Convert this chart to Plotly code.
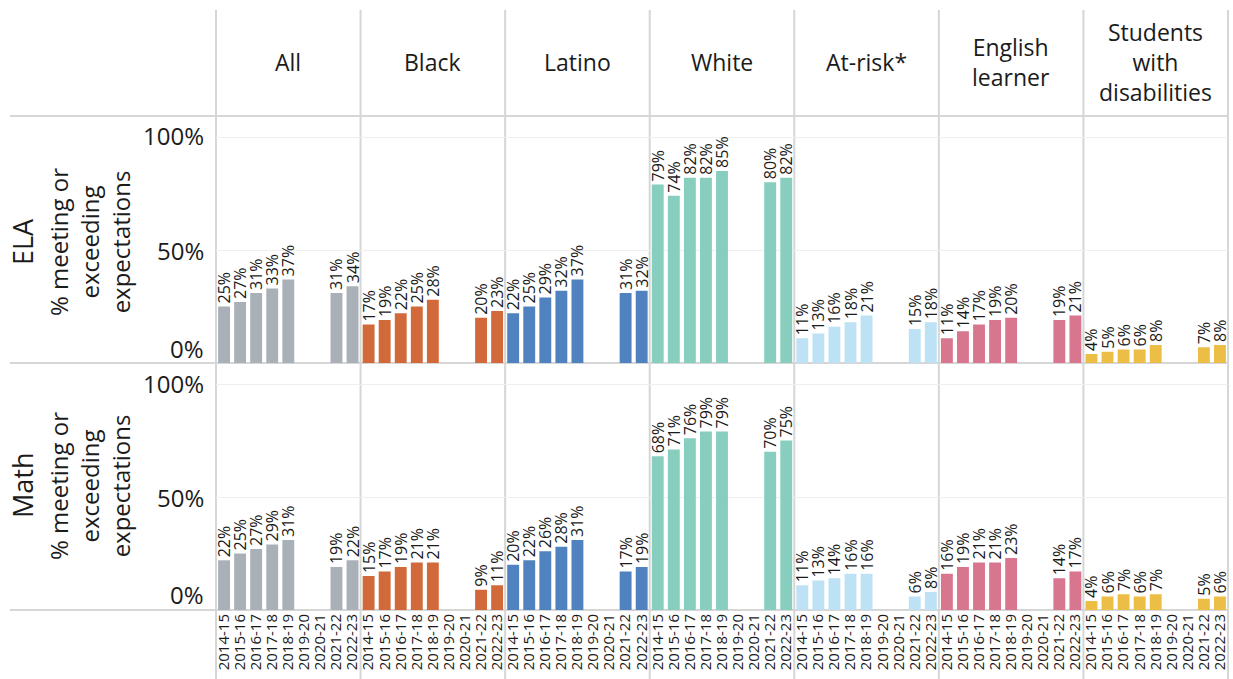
import plotly.graph_objects as go
from plotly.subplots import make_subplots

# School years on each panel's category axis
years = ["2014-15", "2015-16", "2016-17", "2017-18", "2018-19",
         "2019-20", "2020-21", "2021-22", "2022-23"]

# Student groups (column headers, line breaks as drawn)
group_headers = ["All", "Black", "Latino", "White", "At-risk*",
                 "English<br>learner", "Students<br>with<br>disabilities"]

# ELA: % meeting or exceeding expectations (no testing in 2019-20, 2020-21)
ela_all = [25, 27, 31, 33, 37, None, None, 31, 34]
ela_black = [17, 19, 22, 25, 28, None, None, 20, 23]
ela_latino = [22, 25, 29, 32, 37, None, None, 31, 32]
ela_white = [79, 74, 82, 82, 85, None, None, 80, 82]
ela_at_risk = [11, 13, 16, 18, 21, None, None, 15, 18]
ela_english_learner = [11, 14, 17, 19, 20, None, None, 19, 21]
ela_disabilities = [4, 5, 6, 6, 8, None, None, 7, 8]

# Math: % meeting or exceeding expectations
math_all = [22, 25, 27, 29, 31, None, None, 19, 22]
math_black = [15, 17, 19, 21, 21, None, None, 9, 11]
math_latino = [20, 22, 26, 28, 31, None, None, 17, 19]
math_white = [68, 71, 76, 79, 79, None, None, 70, 75]
math_at_risk = [11, 13, 14, 16, 16, None, None, 6, 8]
math_english_learner = [16, 19, 21, 21, 23, None, None, 14, 17]
math_disabilities = [4, 6, 7, 6, 7, None, None, 5, 6]

group_colors = ["#A9B0B8", "#D2693A", "#4F82BE", "#87CEBF",
                "#BDE2F6", "#D9768F", "#EDBE45"]

ela_rows = [ela_all, ela_black, ela_latino, ela_white, ela_at_risk,
            ela_english_learner, ela_disabilities]
math_rows = [math_all, math_black, math_latino, math_white, math_at_risk,
             math_english_learner, math_disabilities]

FONT = "Open Sans"
TXT = "#1b1b1b"
LINE = "#D6D6D6"
Y_TOP = 109.3

# Canvas geometry (pixels)
W, H = 1233, 679
ML, MR, MT, MB = 216, 5, 116, 69
PW, PH = W - ML - MR, H - MT - MB


def px_x(x):
    return (x - ML) / PW


def px_y(y):
    return 1 + (MT - y) / PH


fig = make_subplots(rows=2, cols=7, horizontal_spacing=0, vertical_spacing=0,
                    shared_yaxes=False)

for r, rows in enumerate([ela_rows, math_rows], start=1):
    for c, (vals, col) in enumerate(zip(rows, group_colors), start=1):
        fig.add_trace(go.Bar(
            x=years, y=vals, marker=dict(color=col, line=dict(width=0)),
            text=[None if v is None else f"{v}%" for v in vals],
            textposition="outside", textangle=-90,
            textfont=dict(family=FONT, size=16, color=TXT),
            constraintext="none", cliponaxis=False,
            hoverinfo="skip", showlegend=False,
        ), row=r, col=c)
        fig.update_xaxes(type="category", categoryorder="array", categoryarray=years,
                         tickmode="array", tickvals=years, ticktext=years,
                         range=[-0.5, 8.5], showgrid=False, zeroline=False,
                         showline=False, ticks="", tickangle=-90,
                         showticklabels=(r == 2),
                         tickfont=dict(family=FONT, size=15, color=TXT),
                         row=r, col=c)
        fig.update_yaxes(range=[0, Y_TOP], tickvals=[50, 100], showgrid=True,
                         gridcolor="#EFEFEF", gridwidth=1, zeroline=False,
                         showline=False, showticklabels=False, ticks="",
                         row=r, col=c)

shapes = []
# Column rules
for k in range(8):
    shapes.append(dict(type="line", xref="paper", yref="paper",
                       x0=k / 7, x1=k / 7, y0=px_y(H), y1=px_y(10),
                       line=dict(color=LINE, width=2), layer="below"))
# Row rules
for yp in [1, 0.5, 0]:
    shapes.append(dict(type="line", xref="paper", yref="paper",
                       x0=px_x(10), x1=1, y0=yp, y1=yp,
                       line=dict(color=LINE, width=2), layer="below"))

annotations = []
# Column headers
for i, label in enumerate(group_headers):
    annotations.append(dict(text=label, xref="paper", yref="paper",
                            x=(i + 0.5) / 7, y=px_y(62), showarrow=False,
                            xanchor="center", yanchor="middle", align="center",
                            font=dict(family=FONT, size=23, color=TXT)))

# Row titles
for title, ycen in [("ELA", 242), ("Math", 486)]:
    annotations.append(dict(text=title, xref="paper", yref="paper",
                            x=px_x(22), y=px_y(ycen), textangle=-90,
                            showarrow=False, xanchor="center", yanchor="middle",
                            font=dict(family=FONT, size=27, color=TXT)))
    annotations.append(dict(text="% meeting or<br>exceeding<br>expectations",
                            xref="paper", yref="paper",
                            x=px_x(89), y=px_y(ycen), textangle=-90,
                            showarrow=False, xanchor="center", yanchor="middle",
                            align="center",
                            font=dict(family=FONT, size=24, color=TXT)))

# Percent scale labels beside the first column of each row
for yref, shifts in [("y", {100: 2, 50: 0, 0: 15}), ("y8", {100: 1, 50: 0, 0: 16})]:
    for v, s in shifts.items():
        annotations.append(dict(text=f"{v}%", xref="paper", yref=yref,
                                x=px_x(206), y=v, yshift=s, showarrow=False,
                                xanchor="right", yanchor="middle",
                                font=dict(family=FONT, size=24, color=TXT)))

fig.update_layout(
    width=W, height=H,
    margin=dict(l=ML, r=MR, t=MT, b=MB),
    paper_bgcolor="white", plot_bgcolor="white",
    bargap=0.26, shapes=shapes, annotations=annotations,
    font=dict(family=FONT, color=TXT),
)

fig.write_html("out.html")
